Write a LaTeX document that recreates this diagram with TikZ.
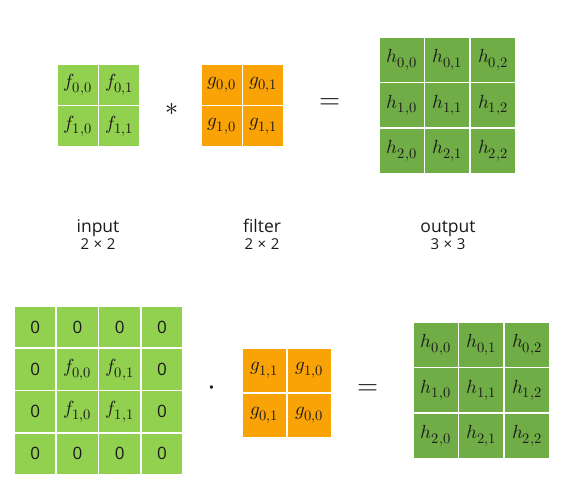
\documentclass[tikz,border=0pt]{standalone}
\usepackage{fontspec}
\usepackage{unicode-math}
\setsansfont{Open Sans}
\setmathfont{Latin Modern Math}
\DeclareMathSizes{19}{19}{14.5}{11}
\usepackage{tikz}
\usetikzlibrary{positioning}
\definecolor{ingreen}{HTML}{92D050}
\definecolor{filtorange}{HTML}{FAA307}
\definecolor{outgreen}{HTML}{70AD47}
\definecolor{bk90}{HTML}{1A1A1A}
\tikzset{
  cell/.style={
    rectangle, draw=white, fill=#1, line width=1.6pt,
    inner sep=0pt, text=bk90, font=\fontsize{19}{21}\selectfont
  },
  cell/.default=ingreen,
  incell/.style={cell=ingreen, minimum size=41.5pt},
  padcell/.style={cell=ingreen, minimum size=42.25pt},
  filtcell/.style={cell=filtorange, minimum size=41.5pt},
  filtcellb/.style={cell=filtorange, minimum size=45pt},
  outcell/.style={cell=outgreen, minimum size=45.6pt},
  opnode/.style={font=\fontsize{#1}{#1}\selectfont, text=bk90, inner sep=0pt},
  opnode/.default=27,
  labelnode/.style={font=\sffamily\fontsize{17.5}{19}\selectfont, text=bk90,
    inner sep=0pt, anchor=base},
  sizenode/.style={font=\sffamily\fontsize{15}{17}\selectfont, text=bk90,
    inner sep=0pt, anchor=base},
}
\newcommand{\bytimes}[2]{#1\hspace{4.5pt}×\hspace{4.5pt}#2}
\newcommand{\zeroval}{\sffamily\fontsize{17}{19}\selectfont 0}
\begin{document}
\begin{tikzpicture}[x=1pt, y=-1pt]
  \useasboundingbox (0,0) rectangle (576,503);

  % ── top row: f * g = h ──
  \foreach \r in {0,1}
    \foreach \c in {0,1} {
      \node[incell] (f\r\c) at ({57+20.75+41.5*\c},{64+20.75+41.5*\r}) {$f_{\r,\c}$};
      \node[filtcell] (g\r\c) at ({201+20.75+41.5*\c},{64+20.75+41.5*\r}) {$g_{\r,\c}$};
    }
  \foreach \r in {0,1,2}
    \foreach \c in {0,1,2}
      \node[outcell] (h\r\c) at ({379+22.8+45.6*\c},{37+22.8+45.6*\r}) {$h_{\r,\c}$};

  \node[opnode=26] (star) at (172,109) {$*$};
  \node[opnode] (eqtop) at (330,104) {$=$};

  % labels
  \node[labelnode] (lblin) at (98,232) {input};
  \node[sizenode] (szin) at (98,249) {\bytimes{2}{2}};
  \node[labelnode] (lblfilt) at (262,232) {filter};
  \node[sizenode] (szfilt) at (262,249) {\bytimes{2}{2}};
  \node[labelnode] (lblout) at (448,232) {output};
  \node[sizenode] (szout) at (448,249) {\bytimes{3}{3}};

  % ── bottom row: padded input . flipped filter = h ──
  \foreach \r in {0,...,3}
    \foreach \c in {0,...,3} {
      \pgfmathtruncatemacro{\fr}{\r-1}
      \pgfmathtruncatemacro{\fc}{\c-1}
      \def\val{\zeroval}
      \ifnum\r>0 \ifnum\r<3 \ifnum\c>0 \ifnum\c<3
        \def\val{$f_{\fr,\fc}$}
      \fi\fi\fi\fi
      \node[padcell] (p\r\c) at ({14+21.125+42.25*\c},{306+21.125+42.25*\r}) {\val};
    }
  \foreach \r in {0,1}
    \foreach \c in {0,1} {
      \pgfmathtruncatemacro{\gr}{1-\r}
      \pgfmathtruncatemacro{\gc}{1-\c}
      \node[filtcellb] (k\r\c) at ({242+22.5+45*\c},{348+22.5+45*\r}) {$g_{\gr,\gc}$};
    }
  \foreach \r in {0,1,2}
    \foreach \c in {0,1,2}
      \node[outcell] (q\r\c) at ({413+22.8+45.6*\c},{322+22.8+45.6*\r}) {$h_{\r,\c}$};

  \node[opnode=32] (dot) at (212,391) {$\cdot$};
  \node[opnode] (eqbot) at (368,390) {$=$};
\end{tikzpicture}
\end{document}
